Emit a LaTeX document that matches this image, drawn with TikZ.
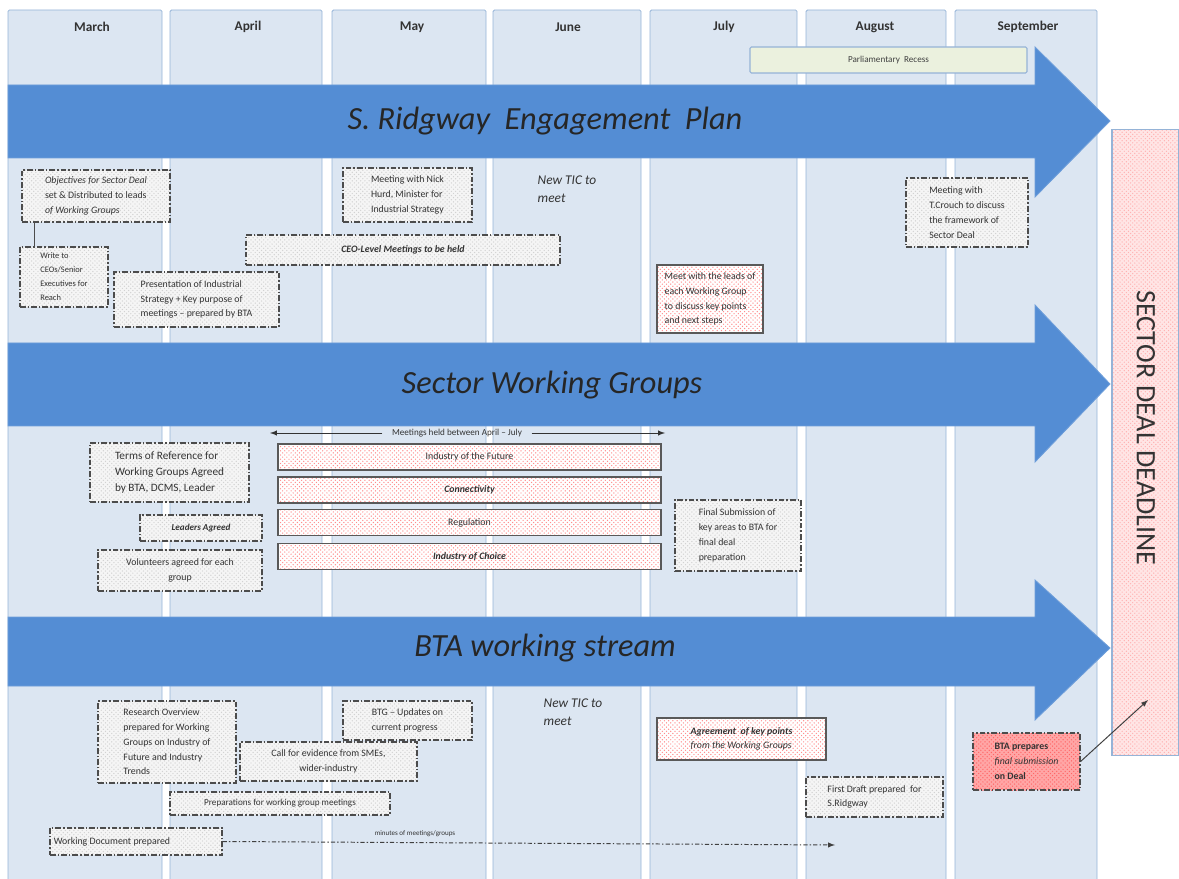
\documentclass[tikz,border=0pt]{standalone}
\usepackage{fontspec}
\setmainfont{Carlito}
\usetikzlibrary{patterns}
\definecolor{lanefill}{RGB}{220,230,242}
\definecolor{laneline}{RGB}{149,179,215}
\definecolor{arrowblue}{RGB}{84,141,212}
\definecolor{recessfill}{RGB}{235,241,222}

\begin{document}
\begin{tikzpicture}[x=0.025cm,y=-0.025cm,>=latex,
      lane/.style={fill=lanefill,draw=laneline,line width=0.6pt,rounded corners=1pt},
      month/.style={font=\fontsize{9.5}{11}\selectfont\bfseries,text=black!80},
      big arrow/.style={fill=arrowblue,draw=arrowblue!85!white,line width=0.6pt},
      arrow text/.style={font=\fontsize{23}{26}\selectfont\itshape,text=black!85},
      task/.style={draw=black!70,line width=0.8pt,dash pattern=on 4pt off 1.5pt on 1pt off 1.5pt,
        preaction={fill=gray!8},pattern=crosshatch dots,pattern color=gray!35,
        font=\fontsize{7}{10.5}\selectfont,align=left,inner sep=2pt,text=black!80},
      pink task/.style={draw=black!65,line width=1.1pt,preaction={fill=white},
        pattern=crosshatch dots,pattern color=red!45,
        font=\fontsize{7}{10.5}\selectfont,align=left,inner sep=2pt,text=black!80},
      group bar/.style={pink task,minimum width=9.575cm,minimum height=0.65cm,align=center},
      plain note/.style={font=\fontsize{9.5}{13}\selectfont\itshape,align=left,text=black!80},
      small note/.style={font=\fontsize{6}{8}\selectfont,text=black!80,inner sep=1pt}]
 \useasboundingbox (0,0) rectangle (1179,879);
 \clip (0,0) rectangle (1179,879);

 % month lanes
 \foreach \xa/\xb/\mon/\lx in {8/162/March/92, 170/322/April/248, 332/486/May/412,
     493/641/June/568, 650/797/July/724, 806/946/August/875, 955/1097/September/1028}{
   \draw[lane] (\xa,10) rectangle (\xb,895);
   \node[month] (m-\mon) at (\lx,27) {\mon};
 }

 \node[draw=laneline,fill=recessfill,rounded corners=1pt,line width=0.8pt,
   minimum width=6.925cm,minimum height=0.65cm,font=\fontsize{6.5}{8}\selectfont,text=black!75]
   (recess) at (888.5,60) {Parliamentary \ Recess};

 % the three streams
 \draw[big arrow] (8,85) -- (1035,85) -- (1035,47) -- (1110,121) -- (1035,197) -- (1035,158) -- (8,158) -- cycle;
 \node[arrow text] (plan) at (545,121) {S. Ridgway \ Engagement \ Plan};
 \draw[big arrow] (8,343) -- (1035,343) -- (1035,305) -- (1110,384) -- (1035,462) -- (1035,426) -- (8,426) -- cycle;
 \node[arrow text] (groups) at (552,385) {Sector Working Groups};
 \draw[big arrow] (8,617) -- (1035,617) -- (1035,580) -- (1110,648) -- (1035,720) -- (1035,686) -- (8,686) -- cycle;
 \node[arrow text] (stream) at (545,648) {BTA working stream};

 % deadline
 \node[draw=laneline,line width=0.8pt,preaction={fill=red!10},pattern=crosshatch dots,pattern color=red!30,
   minimum width=1.675cm,minimum height=15.625cm] (deadline) at (1145.5,442.5) {};
 \node[rotate=-90,font=\fontsize{20}{22}\selectfont,text=black!80] (deadlinelbl) at (1146,428) {SECTOR DEAL DEADLINE};

 % engagement plan
 \node[task,minimum width=3.7cm,minimum height=1.3cm] (obj) at (96,196)
   {\textit{Objectives for Sector Deal}\\set \& Distributed to leads\\\textit{of Working Groups}};
 \node[task,minimum width=2.2cm,minimum height=1.5cm,font=\fontsize{6}{10}\selectfont] (write) at (64,277)
   {Write to\\CEOs/Senior\\Executives for\\Reach};
 \draw[black!70,line width=0.8pt] ([xshift=0.325cm]obj.south west) -- ([xshift=0.325cm]obj.south west |- write.north);
 \node[task,minimum width=4.125cm,minimum height=1.375cm] (pres) at (196.5,299.5)
   {Presentation of Industrial\\Strategy + Key purpose of\\meetings -- prepared by BTA};
 \node[task,minimum width=3.225cm,minimum height=1.35cm] (hurd) at (407.5,195)
   {Meeting with Nick\\Hurd, Minister for\\Industrial Strategy};
 \node[plain note] (tic1) at (567,189) {New TIC to\\meet};
 \node[task,minimum width=7.85cm,minimum height=0.75cm,font=\fontsize{7}{9}\selectfont\bfseries\itshape] (ceo) at (403,250)
   {CEO-Level Meetings to be held};
 \node[pink task,minimum width=2.65cm,minimum height=1.7cm] (leads) at (710,299)
   {Meet with the leads of\\each Working Group\\to discuss key points\\and next steps};
 \node[task,minimum width=3.05cm,minimum height=1.725cm] (crouch) at (967,212.5)
   {Meeting with\\T.Crouch to discuss\\the framework of\\Sector Deal};

 % working groups
 \coordinate (mtgL) at (270,433);
 \coordinate (mtgR) at (665,433);
 \node[small note,font=\fontsize{6.5}{8}\selectfont] (mtglbl) at (457,433) {Meetings held between April -- July};
 \draw[->,black!80,line width=0.7pt] (mtglbl.west) ++(-8,0) -- (mtgL);
 \draw[->,black!80,line width=0.7pt] (mtglbl.east) ++(8,0) -- (mtgR);
 \node[group bar] (future) at (469.5,457) {Industry of the Future};
 \node[group bar,font=\fontsize{7}{9}\selectfont\bfseries\itshape] (connect) at (469.5,490) {Connectivity};
 \node[group bar] (regul) at (469.5,522.5) {Regulation};
 \node[group bar,font=\fontsize{7}{9}\selectfont\bfseries\itshape] (choice) at (469.5,556.5) {Industry of Choice};
 \node[task,minimum width=3.975cm,minimum height=1.475cm,font=\fontsize{8}{11.5}\selectfont] (terms) at (169.5,472.5)
   {Terms of Reference for\\Working Groups Agreed\\by BTA, DCMS, Leader};
 \node[task,minimum width=3.05cm,minimum height=0.65cm,font=\fontsize{6.5}{8}\selectfont\bfseries\itshape] (leaders) at (201,528)
   {Leaders Agreed};
 \node[task,minimum width=4.1cm,minimum height=1.025cm,align=center] (volunteers) at (180,570.5)
   {Volunteers agreed for each\\group};
 \node[task,minimum width=3.15cm,minimum height=1.775cm] (finalsub) at (738,535.5)
   {Final Submission of\\key areas to BTA for\\final deal\\preparation};

 % BTA stream
 \node[plain note] (tic2) at (573,712) {New TIC to\\meet};
 \node[task,minimum width=3.45cm,minimum height=2.05cm] (research) at (167,742)
   {Research Overview\\prepared for Working\\Groups on Industry of\\Future and Industry\\Trends};
 \node[task,minimum width=3.225cm,minimum height=0.975cm] (btg) at (407.5,720.5)
   {BTG -- Updates on\\current progress};
 \node[task,minimum width=4.425cm,minimum height=0.975cm,align=center] (evidence) at (328.5,761.5)
   {Call for evidence from SMEs,\\wider-industry};
 \node[task,minimum width=5.5cm,minimum height=0.575cm,font=\fontsize{6.5}{8}\selectfont] (prep) at (280,803.5)
   {Preparations for working group meetings};
 \node[task,minimum width=4.3cm,minimum height=0.675cm] (workdoc) at (136,841.5)
   {Working Document prepared\hspace{1.2cm}};
 \coordinate (minEnd) at (835,845);
 \draw[->,black!75,line width=0.7pt,dash pattern=on 3pt off 1.5pt on 1pt off 1.5pt] (workdoc.east) -- (minEnd);
 \node[small note,font=\fontsize{5}{6}\selectfont] (minlbl) at (415,834) {minutes of meetings/groups};
 \node[pink task,minimum width=4.225cm,minimum height=1.05cm] (agree) at (741.5,739)
   {\textbf{\textit{Agreement \ of key points}}\\\textit{from the Working Groups}};
 \node[task,minimum width=3.425cm,minimum height=1cm] (draft) at (874.5,797)
   {First Draft prepared \ for\\S.Ridgway};
 \node[task,preaction={fill=red!35},pattern color=red!60,minimum width=2.675cm,minimum height=1.425cm] (btaprep) at (1026.5,761.5)
   {\textbf{BTA prepares}\\\textit{final submission}\\\textbf{on Deal}};
 \coordinate (dlpoint) at (1148,700);
 \draw[->,black!75,line width=0.7pt] (btaprep.east) -- (dlpoint);
\end{tikzpicture}
\end{document}
